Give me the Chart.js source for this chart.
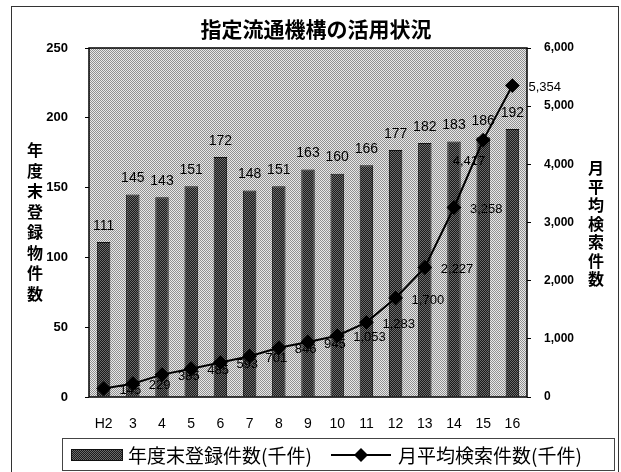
<!DOCTYPE html>
<html>
<head>
<meta charset="utf-8">
<script src="https://cdn.jsdelivr.net/npm/chart.js@4.4.1/dist/chart.umd.min.js"></script>
<style>
  html, body { margin: 0; padding: 0; background: #ffffff; }
  #wrap { width: 621px; height: 472px; position: relative; }
  canvas { display: block; }
</style>
</head>
<body>
<div id="wrap"><canvas id="c" width="621" height="472"></canvas></div>
<script>
// ---- data ----
const categories = ['H2', '3', '4', '5', '6', '7', '8', '9', '10', '11', '12', '13', '14', '15', '16'];
const registrations = [111, 145, 143, 151, 172, 148, 151, 163, 160, 166, 177, 182, 183, 186, 192];
const searches = [145, 229, 385, 485, 593, 701, 846, 945, 1053, 1283, 1700, 2227, 3258, 4417, 5354];
const chartTitle = '指定流通機構の活用状況';
const leftAxisTitle = '年度末登録物件数';
const rightAxisTitle = '月平均検索件数';
const barLegend = '年度末登録件数(千件)';
const lineLegend = '月平均検索件数(千件)';

const JP = '"Noto Sans CJK JP", "Noto Sans CJK SC", sans-serif';
const LAT = '"Liberation Sans", Arial, sans-serif';

function makePattern(c1, c2) {
  const p = document.createElement('canvas');
  p.width = 2; p.height = 2;
  const g = p.getContext('2d');
  g.fillStyle = c1; g.fillRect(0, 0, 2, 2);
  g.fillStyle = c2; g.fillRect(0, 0, 1, 1); g.fillRect(1, 1, 1, 1);
  return g.createPattern(p, 'repeat');
}
const bgPattern = makePattern('#e8e8e8', '#909090');
const barPattern = makePattern('#1a1a1a', '#6a6a6a');

function fmt(v) { return v.toLocaleString('en-US'); }

const decor = {
  id: 'decor',
  beforeDraw(chart) {
    const ctx = chart.ctx;
    const a = chart.chartArea;
    ctx.save();
    ctx.fillStyle = '#ffffff';
    ctx.fillRect(0, 0, chart.width, chart.height);
    // outer frame
    ctx.strokeStyle = '#333333';
    ctx.lineWidth = 1;
    ctx.strokeRect(11.5, 6.5, 607, 470);
    // plot background
    ctx.fillStyle = bgPattern;
    ctx.fillRect(a.left, a.top, a.right - a.left, a.bottom - a.top);
    ctx.restore();
  },
  afterDatasetsDraw(chart) {
    const ctx = chart.ctx;
    const a = chart.chartArea;
    ctx.save();
    // plot border
    ctx.strokeStyle = '#000000';
    ctx.lineWidth = 1.5;
    ctx.strokeRect(a.left, a.top, a.right - a.left, a.bottom - a.top);

    // bar labels
    ctx.fillStyle = '#000000';
    ctx.font = '14px ' + LAT;
    ctx.textAlign = 'center';
    ctx.textBaseline = 'middle';
    const barMeta = chart.getDatasetMeta(0);
    barMeta.data.forEach((el, i) => {
      ctx.fillText(String(registrations[i]), el.x, el.y - 16);
    });
    // line labels (to the right of each marker; the second-to-last sits below-left as in the original)
    ctx.font = '13px ' + LAT;
    const lineMeta = chart.getDatasetMeta(1);
    const n = lineMeta.data.length;
    lineMeta.data.forEach((el, i) => {
      if (i === n - 2) {
        ctx.textAlign = 'right';
        ctx.fillText(fmt(searches[i]), el.x + 2, el.y + 21);
      } else {
        ctx.textAlign = 'left';
        ctx.fillText(fmt(searches[i]), el.x + 16, el.y + 2);
      }
    });

    // title
    ctx.font = 'bold 21px ' + JP;
    ctx.textAlign = 'center';
    ctx.fillText(chartTitle, 316, 29);

    // vertical axis titles
    ctx.font = 'bold 16px ' + JP;
    [...leftAxisTitle].forEach((ch, i) => {
      ctx.fillText(ch, 35, 150 + i * 20.5);
    });
    [...rightAxisTitle].forEach((ch, i) => {
      ctx.fillText(ch, 596, 168 + i * 18.5);
    });

    // legend
    const lx = 62, ly = 438, lw = 552, lh = 32;
    ctx.strokeStyle = '#444444';
    ctx.lineWidth = 1;
    ctx.strokeRect(lx + 0.5, ly + 0.5, lw, lh);
    const cy = 455;
    ctx.fillStyle = barPattern;
    ctx.fillRect(71, cy - 6, 52, 12);
    ctx.strokeStyle = '#111111';
    ctx.strokeRect(71.5, cy - 5.5, 51, 11);
    ctx.fillStyle = '#000000';
    ctx.font = '19px ' + JP;
    ctx.textAlign = 'left';
    ctx.fillText(barLegend, 128, cy + 1);
    ctx.strokeStyle = '#000000';
    ctx.lineWidth = 2;
    ctx.beginPath();
    ctx.moveTo(331, cy); ctx.lineTo(391, cy); ctx.stroke();
    ctx.beginPath();
    ctx.moveTo(361, cy - 7); ctx.lineTo(368, cy); ctx.lineTo(361, cy + 7); ctx.lineTo(354, cy);
    ctx.closePath(); ctx.fill();
    ctx.fillText(lineLegend, 398, cy + 1);
    ctx.restore();
  }
};

new Chart(document.getElementById('c'), {
  data: {
    labels: categories,
    datasets: [
      {
        type: 'bar',
        label: barLegend,
        data: registrations,
        yAxisID: 'y',
        backgroundColor: barPattern,
        borderColor: '#111111',
        borderWidth: 1,
        barPercentage: 0.46,
        categoryPercentage: 1.0,
        order: 2
      },
      {
        type: 'line',
        label: lineLegend,
        data: searches,
        yAxisID: 'y1',
        borderColor: '#000000',
        borderWidth: 2,
        backgroundColor: '#000000',
        pointStyle: 'rectRot',
        pointRadius: 6,
        pointBackgroundColor: '#000000',
        pointBorderColor: '#000000',
        tension: 0,
        order: 1
      }
    ]
  },
  options: {
    responsive: false,
    animation: false,
    devicePixelRatio: 1,
    layout: { padding: { top: 48, bottom: 0, left: 0, right: 0 } },
    plugins: { legend: { display: false }, tooltip: { enabled: false }, title: { display: false } },
    scales: {
      x: {
        grid: { display: false },
        border: { display: false },
        ticks: { color: '#000', font: { family: LAT, size: 14 }, padding: 11, maxRotation: 0 },
        afterFit(s) { s.height = 75; }
      },
      y: {
        position: 'left',
        min: 0, max: 250,
        ticks: { stepSize: 50, color: '#000', font: { family: LAT, size: 13, weight: 'bold' }, padding: 17 },
        grid: { drawOnChartArea: false, drawTicks: true, tickLength: 4, color: '#000' },
        border: { display: false },
        afterFit(s) { s.width = 89; }
      },
      y1: {
        position: 'right',
        min: 0, max: 6000,
        ticks: { stepSize: 1000, color: '#000', font: { family: LAT, size: 12, weight: 'bold' }, padding: 13,
          callback: v => fmt(v) },
        grid: { drawOnChartArea: false, drawTicks: true, tickLength: 4, color: '#000' },
        border: { display: false },
        afterFit(s) { s.width = 94; }
      }
    }
  },
  plugins: [decor]
});
</script>
</body>
</html>
